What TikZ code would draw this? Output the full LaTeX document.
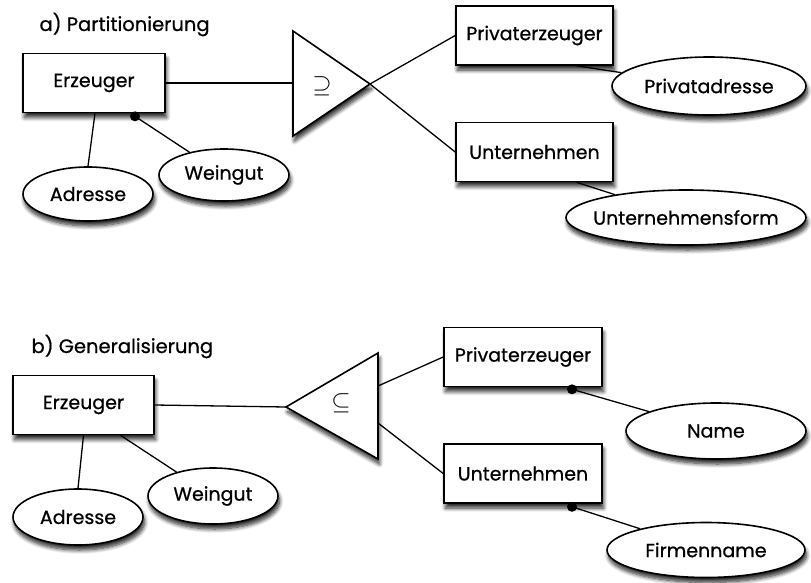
\documentclass[tikz,border=0pt]{standalone}
\usepackage{fontspec}
\setmainfont{Poppins}[FakeBold=0.7]
\usetikzlibrary{shapes.geometric,shadows.blur}
\tikzset{
  shd/.style={blur shadow={shadow xshift=1.5pt,shadow yshift=-5pt,shadow blur steps=8,shadow blur radius=4pt,shadow opacity=85}},
  lbl/.style={font=\fontsize{19}{22}\selectfont},
  ent/.style={draw,fill=white,line width=1.6pt,minimum height=59pt,inner sep=0pt,lbl,shd},
  attr/.style={ellipse,draw,fill=white,line width=1.6pt,inner sep=0pt,lbl,shd},
  conn/.style={line width=1.3pt},
  tri/.style={draw,fill=white,line width=1.6pt,shd},
  dotn/.style={circle,fill=black,inner sep=0pt,minimum size=10pt},
  title/.style={anchor=base west,font=\fontsize{19.5}{23}\selectfont},
  setsym/.style={font=\fontsize{23}{26}\selectfont},
}
\begin{document}
\begin{tikzpicture}[x=1pt,y=-1pt]
\useasboundingbox (0,0) rectangle (811,583);
% ---------- a) Partitionierung
\node[title] (ta) at (36,31) {a) Partitionierung};
\node[ent,minimum width=142pt] (erza) at (94,83) {Erzeuger};
\node[ent,minimum width=157pt] (pza) at (534.5,35.5) {Privaterzeuger};
\node[ent,minimum width=157pt] (una) at (534.5,152) {Unternehmen};
\node[attr,minimum width=130pt,minimum height=54pt] (adra) at (88,194) {Adresse};
\node[attr,minimum width=130pt,minimum height=52pt] (weina) at (224,175) {Weingut};
\node[attr,minimum width=194pt,minimum height=58pt,inner xsep=-14pt] (pada) at (709,86) {Privatadresse};
\node[attr,minimum width=240pt,minimum height=55pt,inner xsep=-20pt] (ufa) at (686,217.5) {Unternehmensform};
\coordinate (tra1) at (293,31);
\coordinate (tra2) at (293,136);
\coordinate (tra3) at (370,84);
\draw[tri] (tra1) -- (tra3) -- (tra2) -- cycle;
\node[setsym] (supa) at (322,86) {$\supseteq$};
\draw[conn] (erza.east) -- (erza.east -| tra1);
\draw[conn] (tra3) -- (pza.west);
\draw[conn] (tra3) -- (una.west);
\draw[conn] ([xshift=1pt]erza.south) -- (adra.north);
\node[dotn] (da1) at ([xshift=41pt,yshift=-3pt]erza.south) {};
\draw[conn] (da1.center) -- (weina);
\draw[conn] ([xshift=42pt]pza.south) -- (pada);
\draw[conn] ([xshift=42pt]una.south) -- (ufa);
% ---------- b) Generalisierung
\node[title] (tb) at (28,353) {b) Generalisierung};
\node[ent,minimum width=141pt] (erzb) at (83.5,405) {Erzeuger};
\node[ent,minimum width=158pt] (pzb) at (523,357) {Privaterzeuger};
\node[ent,minimum width=158pt] (unb) at (523,473.5) {Unternehmen};
\node[attr,minimum width=130pt,minimum height=56pt] (adrb) at (78,517) {Adresse};
\node[attr,minimum width=130pt,minimum height=56pt] (weinb) at (213,496) {Weingut};
\node[attr,minimum width=180pt,minimum height=56pt] (nameb) at (716,431) {Name};
\node[attr,minimum width=198pt,minimum height=55pt,inner xsep=-10pt] (firmb) at (706,550) {Firmenname};
\coordinate (trb1) at (286,407);
\coordinate (trb2) at (378,353);
\coordinate (trb3) at (378,459);
\draw[tri] (trb1) -- (trb2) -- (trb3) -- cycle;
\node[setsym] (subb) at (341,403) {$\subseteq$};
\coordinate (trbo1) at (378,386);
\coordinate (trbo2) at (378,423);
\draw[conn] (erzb.east) -- (trb1);
\draw[conn] (trbo1) -- (pzb.west);
\draw[conn] (trbo2) -- (unb.west);
\draw[conn] (erzb.south) -- (adrb.north);
\draw[conn] ([xshift=37pt]erzb.south) -- (weinb);
\node[dotn] (db1) at ([xshift=49pt,yshift=-2pt]pzb.south) {};
\draw[conn] (db1.center) -- (nameb);
\node[dotn] (db2) at ([xshift=49pt,yshift=-3pt]unb.south) {};
\draw[conn] (db2.center) -- (firmb);
\end{tikzpicture}
\end{document}
